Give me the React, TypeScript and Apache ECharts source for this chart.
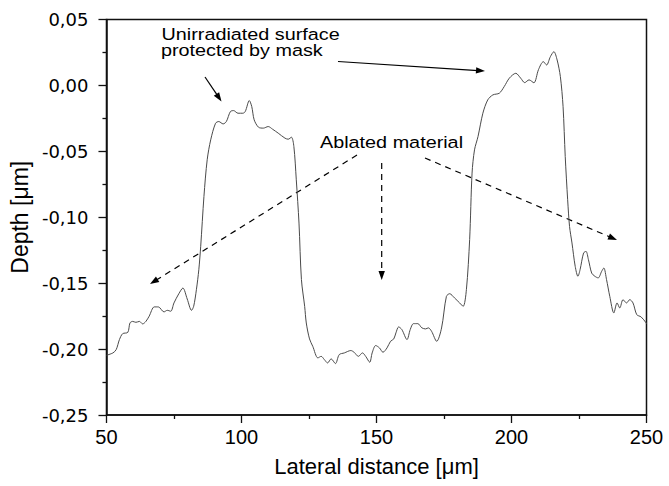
import React, { useEffect, useRef } from "react";
import * as echarts from "echarts";

// Lateral distance [µm] and depth [µm], traced piecewise
const leftAblatedX = [50.0, 52.4, 53.6, 54.8, 56.0, 57.9, 58.7, 59.7, 60.9, 62.2, 63.4, 64.6, 65.8, 67.7, 69.2, 71.3, 72.5, 73.8, 75.0, 76.8, 78.3, 79.9, 81.5, 82.3, 83.3];
const leftAblatedY = [-0.2047, -0.2029, -0.2004, -0.1928, -0.1883, -0.1873, -0.1802, -0.179, -0.1797, -0.179, -0.1809, -0.179, -0.1751, -0.168, -0.168, -0.1718, -0.1706, -0.1713, -0.165, -0.158, -0.1537, -0.162, -0.1706, -0.1675, -0.155];

const leftMaskX = [84.2, 84.9, 86.1, 87.3, 88.6, 90.4, 91.6, 93.2, 94.4, 95.9, 97.1, 98.7, 100.5, 101.4, 102.9, 103.8, 104.7, 106.3, 108.1, 109.9, 111.5, 113.6, 116.1, 117.3, 118.5, 119.4, 120.3, 121.3, 122.2];
const leftMaskY = [-0.1398, -0.122, -0.0842, -0.0564, -0.0413, -0.0287, -0.0274, -0.0292, -0.0274, -0.0198, -0.0191, -0.0211, -0.0211, -0.0198, -0.0115, -0.016, -0.0261, -0.0317, -0.0324, -0.0312, -0.0332, -0.0362, -0.04, -0.0408, -0.0393, -0.0463, -0.0716, -0.1044, -0.1473];

const midAblatedX = [123.4, 124.0, 125.2, 126.4, 128.3, 129.5, 130.7, 131.9, 133.2, 134.8, 136.2, 138.1, 140.5, 141.7, 143.3, 144.8, 146.0, 147.5, 148.4, 149.7, 151.1, 152.4, 153.9, 155.2, 156.4, 157.2, 158.2, 159.4, 161.3, 162.5, 163.7, 165.3, 166.8, 168.2, 169.2, 170.4, 172.3, 174.1, 175.9, 177.1, 178.9, 180.8, 182.1, 183.3];
const midAblatedY = [-0.1676, -0.1802, -0.1923, -0.1979, -0.2067, -0.2055, -0.208, -0.2105, -0.2074, -0.211, -0.2042, -0.2029, -0.2011, -0.2024, -0.2055, -0.2029, -0.2055, -0.21, -0.2029, -0.1973, -0.1991, -0.2024, -0.1991, -0.1941, -0.1923, -0.1877, -0.1832, -0.1852, -0.1928, -0.1852, -0.1807, -0.1807, -0.1839, -0.1847, -0.1839, -0.1865, -0.1941, -0.184, -0.16, -0.158, -0.1612, -0.165, -0.1676, -0.1549];

const rightMaskX = [184.5, 185.4, 186.3, 187.6, 189.4, 191.2, 193.1, 195.5, 197.3, 199.2, 201.6, 203.4, 204.9, 206.5, 208.3, 210.0, 211.8, 213.0, 214.4, 215.7, 216.9, 218.1, 219.1, 219.9, 220.8, 221.5, 222.4];
const rightMaskY = [-0.117, -0.0665, -0.0489, -0.0388, -0.0211, -0.011, -0.0072, -0.0059, -0.0009, 0.0055, 0.0092, 0.0055, 0.0021, 0.0042, 0.002, 0.012, 0.018, 0.0155, 0.0218, 0.0256, 0.0193, 0.0067, -0.0161, -0.0539, -0.0867, -0.107, -0.1195];

const rightAblatedX = [223.6, 224.6, 225.4, 226.7, 227.6, 228.5, 229.7, 230.9, 232.1, 233.4, 234.2, 235.2, 236.4, 237.9, 239.1, 240.1, 241.3, 242.6, 243.8, 245.0, 246.4, 248.0, 249.9, 250.0];
const rightAblatedY = [-0.1373, -0.1448, -0.1398, -0.1271, -0.1259, -0.1322, -0.1423, -0.1448, -0.146, -0.141, -0.1385, -0.1473, -0.16, -0.1726, -0.165, -0.1688, -0.1625, -0.165, -0.1625, -0.165, -0.1739, -0.1756, -0.1802, -0.181];

const xTicks = [50, 100, 150, 200, 250];
const yTicks = [-0.25, -0.2, -0.15, -0.1, -0.05, 0, 0.05];

const annotationTexts = ["Unirradiated surface", "protected by mask", "Ablated material"];

const lateral = [...leftAblatedX, ...leftMaskX, ...midAblatedX, ...rightMaskX, ...rightAblatedX];
const depth = [...leftAblatedY, ...leftMaskY, ...midAblatedY, ...rightMaskY, ...rightAblatedY];

const FONT = '"Liberation Sans", Arial, sans-serif';

function arrow(x1: number, y1: number, x2: number, y2: number, dashed: boolean) {
  const dx = x2 - x1;
  const dy = y2 - y1;
  const len = Math.sqrt(dx * dx + dy * dy);
  const ux = dx / len;
  const uy = dy / len;
  const hl = 9;
  const hw = 3.2;
  const bx = x2 - ux * hl;
  const by = y2 - uy * hl;
  return [
    {
      type: "line",
      silent: true,
      shape: { x1, y1, x2: bx + ux * 2, y2: by + uy * 2 },
      style: { stroke: "#000", lineWidth: 1.2, lineDash: dashed ? [6, 5] : null },
    },
    {
      type: "polygon",
      silent: true,
      shape: {
        points: [
          [x2, y2],
          [bx - uy * hw, by + ux * hw],
          [bx + uy * hw, by - ux * hw],
        ],
      },
      style: { fill: "#000" },
    },
  ];
}

function label(text: string, x: number, y: number) {
  return {
    type: "text",
    silent: true,
    x,
    y,
    scaleX: 1.2,
    style: {
      text,
      x: 0,
      y: 0,
      fontSize: 16.5,
      fontFamily: FONT,
      fill: "#000",
      textAlign: "left",
      textVerticalAlign: "middle",
    },
  };
}

export default function App() {
  const ref = useRef<HTMLDivElement>(null);
  useEffect(() => {
    if (!ref.current) return;
    const chart = echarts.init(ref.current, null, { renderer: "svg" });
    const data = lateral.map((x, i) => [x, depth[i]]);
    chart.setOption({
      animation: false,
      backgroundColor: "#fff",
      grid: {
        left: 101.5,
        right: 22.5,
        top: 19.5,
        bottom: 71,
        show: true,
        borderColor: "#111",
        borderWidth: 1.5,
        backgroundColor: "transparent",
      },
      xAxis: {
        type: "value",
        min: xTicks[0],
        max: xTicks[xTicks.length - 1],
        interval: 50,
        name: "Lateral distance [μm]",
        nameLocation: "middle",
        nameGap: 40,
        nameTextStyle: { fontSize: 22, fontFamily: FONT, color: "#000" },
        axisLine: { show: true, onZero: false, lineStyle: { color: "#111", width: 1.5 } },
        axisTick: { show: true, inside: false, length: 8, lineStyle: { color: "#111", width: 1.3 } },
        minorTick: { show: true, splitNumber: 2, length: 4, lineStyle: { color: "#111", width: 1.3 } },
        splitLine: { show: false },
        axisLabel: { fontSize: 20, fontFamily: FONT, color: "#000", margin: 12 },
      },
      yAxis: {
        type: "value",
        min: yTicks[0],
        max: yTicks[yTicks.length - 1],
        interval: 0.05,
        name: "Depth [μm]",
        nameLocation: "middle",
        nameGap: 65,
        nameTextStyle: { fontSize: 23, fontFamily: FONT, color: "#000" },
        axisLine: { show: true, onZero: false, lineStyle: { color: "#111", width: 1.5 } },
        axisTick: { show: true, inside: false, length: 8, lineStyle: { color: "#111", width: 1.3 } },
        minorTick: { show: true, splitNumber: 2, length: 4, lineStyle: { color: "#111", width: 1.3 } },
        splitLine: { show: false },
        axisLabel: {
          fontSize: 18,
          fontFamily: '"DejaVu Sans", sans-serif',
          color: "#000",
          margin: 18,
          formatter: (v: number) => (Math.abs(v) < 1e-9 ? "0,00" : v.toFixed(2).replace(".", ",")),
        },
      },
      series: [
        {
          type: "line",
          data,
          showSymbol: false,
          smooth: 0.3,
          lineStyle: { color: "#4a4a4a", width: 1 },
        },
      ],
      graphic: [
        label(annotationTexts[0], 161.5, 34.2),
        label(annotationTexts[1], 161, 50.9),
        label(annotationTexts[2], 320, 142.5),
        ...arrow(205, 77, 221.5, 101.5, false),
        ...arrow(338, 61.5, 485, 71, false),
        ...arrow(357, 155, 150, 284, true),
        ...arrow(381.7, 163, 381.7, 280, true),
        ...arrow(425, 158, 617, 240, true),
      ],
    });
    return () => chart.dispose();
  }, []);
  return <div ref={ref} style={{ width: 669, height: 486, position: "absolute", left: 0, top: 0 }} />;
}
